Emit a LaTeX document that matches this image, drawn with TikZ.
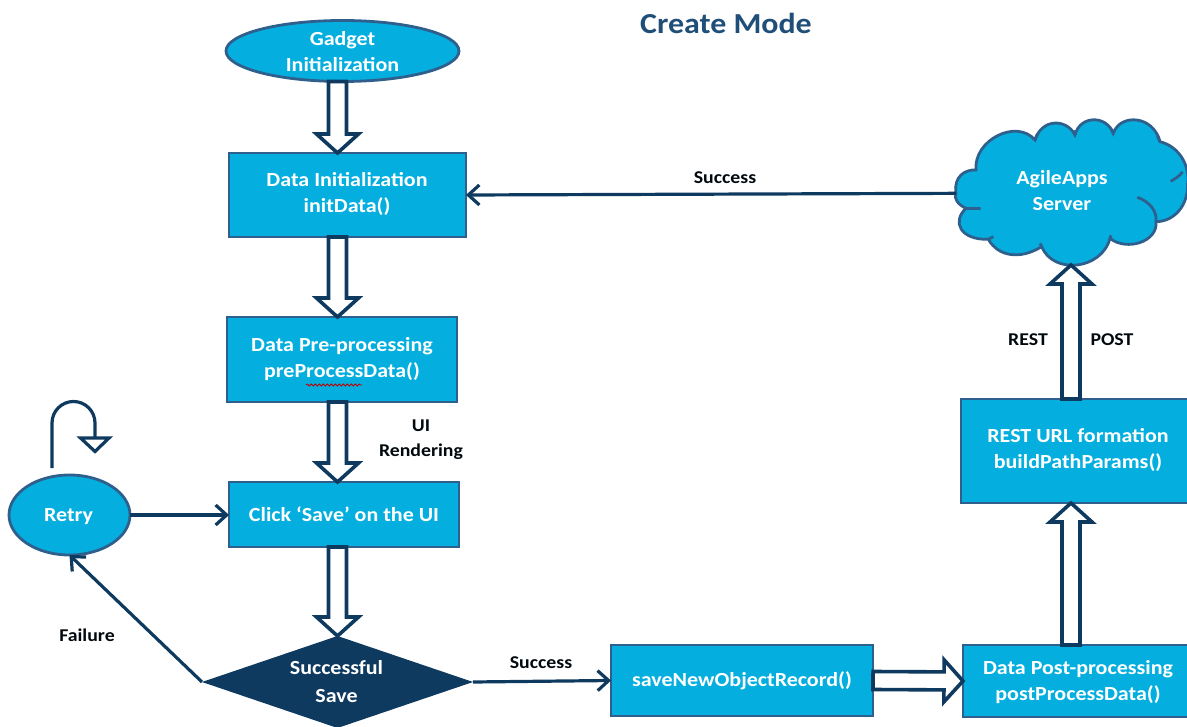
\documentclass[tikz,border=0pt]{standalone}
\usepackage{fontspec}
\setmainfont{Carlito}[BoldFont=Carlito Bold,BoldFeatures={FakeStretch=1.1}]
\usetikzlibrary{arrows.meta,calc,shapes.geometric,decorations.pathmorphing}
\definecolor{boxfill}{HTML}{04AFDF}
\definecolor{boxedge}{HTML}{2F5F8C}
\definecolor{navy}{HTML}{0F3A5F}
\definecolor{titleblue}{HTML}{1F4E79}
\tikzset{
  x=1pt,y=-1pt,
  whitetext/.style={text=white,font=\bfseries\fontsize{20}{26}\selectfont,align=center,inner sep=0pt},
  base/.style={draw=boxedge,fill=boxfill,line width=2.8pt,whitetext,outer sep=0pt},
  boxnode/.style={base,rectangle},
  ovalnode/.style={base,ellipse},
  lbl/.style={text=black!85!navy,font=\bfseries\fontsize{18}{25}\selectfont,align=center,inner sep=0pt},
  blockline/.style={draw=navy,fill=white,line width=3.6pt,line join=miter},
  thin arrow/.style={draw=navy,line width=3.2pt,-{Straight Barb[length=11pt,width=20pt,line width=3.2pt]}},
}
\newcommand{\blockarrow}[2]{%
  \coordinate (ba1) at (#1);
  \coordinate (ba2) at (#2);
  \coordinate (bah) at ($(ba2)!19pt!(ba1)$);
  \draw[blockline] ($(ba1)!9pt!-90:(ba2)$) -- ($(bah)!9pt!90:(ba1)$) -- ($(bah)!21pt!90:(ba1)$) -- (ba2)
     -- ($(bah)!21pt!-90:(ba1)$) -- ($(bah)!9pt!-90:(ba1)$) -- ($(ba1)!9pt!90:(ba2)$) -- cycle;
}
\begin{document}
\begin{tikzpicture}
\useasboundingbox (0,0) rectangle (1187,727);
\clip (0,0) rectangle (1187,727);
\node[text=titleblue,font=\bfseries\fontsize{29}{30}\selectfont,inner sep=0pt] (title) at (726,23) {Create Mode};

\node[ovalnode,minimum width=233pt,minimum height=61pt] (gi) at (342.5,51) {};
\node[whitetext] (gitext) at (342.5,52) {Gadget\\Initialization};
\node[boxnode,minimum width=237pt,minimum height=84pt] (di) at (347.5,195) {};
\node[whitetext] (ditext) at (347,194) {Data Initialization\\initData()};
\node[boxnode,minimum width=230pt,minimum height=85pt] (pp) at (342,359.5) {Data Pre-processing\\preProcessData()};
\node[boxnode,minimum width=230pt,minimum height=65pt] (ck) at (344,514.5) {Click ‘Save’ on the UI};
\node[ovalnode,minimum width=121pt,minimum height=80pt] (rt) at (69.5,515) {};
\node[whitetext] (rttext) at (68.5,517) {Retry};
\node[boxnode,minimum width=262pt,minimum height=71pt] (sv) at (742,680.5) {};
\node[whitetext] (svtext) at (742,681) {saveNewObjectRecord()};
\node[boxnode,minimum width=240pt,minimum height=72pt] (po) at (1083,681) {};
\node[whitetext] (potext) at (1078,682) {Data Post-processing\\postProcessData()};
\node[boxnode,minimum width=240pt,minimum height=104pt] (re) at (1081,451) {};
\node[whitetext] (retext) at (1078,450) {REST URL formation\\buildPathParams()};

% diamond
\coordinate (dc) at (337.5,682);
\fill[navy] (202,682) coordinate (dw) -- (337.5,636) coordinate (dn) -- (473,682) coordinate (de) -- (337.5,728) -- cycle;
\node[whitetext,font=\bfseries\fontsize{20}{28}\selectfont] (ds) at (336.5,682) {Successful\\Save};

% cloud
\begin{scope}[shift={(920,110)},x=0.3333pt,y=-0.3333pt,draw=boxedge,fill=boxfill,line width=2.8pt]
  \filldraw (108,250) coordinate (clw)
    .. controls (100,200) and (135,178) .. (168,180)
    .. controls (160,90) and (290,25) .. (345,90)
    .. controls (365,25) and (440,25) .. (465,75)
    .. controls (480,15) and (560,15) .. (580,70)
    .. controls (600,10) and (700,15) .. (720,95)
    .. controls (780,110) and (810,170) .. (803,220)
    .. controls (805,290) and (760,335) .. (708,335)
    .. controls (715,395) and (620,425) .. (570,385)
    .. controls (545,480) and (400,495) .. (365,410)
    .. controls (300,450) and (235,440) .. (205,388)
    .. controls (120,390) and (95,335) .. (138,295)
    .. controls (115,285) and (100,265) .. (108,250) -- cycle;
  \draw (138,295) to[out=-5,in=175] (182,296);
  \draw (205,388) to[out=20,in=200] (220,380);
  \draw (652,262) .. controls (690,275) and (712,305) .. (708,335);
  \draw (752,214) to[out=30,in=-130] (788,186);
  \draw (345,90) -- (352,72);
  \draw (465,75) -- (460,62);
  \draw (580,70) -- (574,58);
  \draw (720,95) -- (712,78);
  \draw (365,410) -- (360,400);
  \draw (570,385) -- (573,376);
  \coordinate (cls) at (450,465);
\end{scope}
\node[whitetext] (cl) at (1062,191) {AgileApps\\Server};

% spell-check squiggle
\coordinate (sq1) at (306,385);
\coordinate (sq2) at (362,385);
\draw[red!75!black,line width=0.9pt,decorate,decoration={snake,amplitude=0.9pt,segment length=4pt}] (sq1) -- (sq2);

% block arrows
\coordinate (ax) at (337.5,0);
\coordinate (rx) at (1071,0);
\blockarrow{gi.south -| ax}{di.north -| ax}
\blockarrow{di.south -| ax}{pp.north -| ax}
\blockarrow{pp.south -| ax}{ck.north -| ax}
\blockarrow{ck.south -| ax}{dn}
\blockarrow{sv.east}{po.west}
\blockarrow{po.north -| rx}{re.south -| rx}
\coordinate (cls2) at (cls -| rx);
\blockarrow{re.north -| rx}{cls2}

% thin arrows
\draw[thin arrow] (clw) -- (di.east);
\draw[thin arrow] (rt.east) -- (rt.east -| ck.west);
\draw[thin arrow] (dw) -- (rt.south);
\draw[thin arrow] (de) -- (sv.west);

% retry loop
\coordinate (lp1) at (52,468);
\coordinate (lp2) at (95,437);
\draw[draw=navy,line width=3.2pt] (lp1) -- (52,423) arc[start angle=180,end angle=0,radius=21.5pt] -- (lp2);
\draw[blockline,line width=3.2pt] (80.5,438) -- (109,438) -- (95,451.5) -- cycle;

% labels
\node[lbl] (l1) at (725,178) {Success};
\node[lbl] (l2) at (421,440) {UI\\Rendering};
\node[lbl] (l3) at (1028,340) {REST};
\node[lbl] (l4) at (1112,340) {POST};
\node[lbl] (l5) at (87,635) {Failure};
\node[lbl] (l6) at (541,663) {Success};
\end{tikzpicture}
\end{document}
